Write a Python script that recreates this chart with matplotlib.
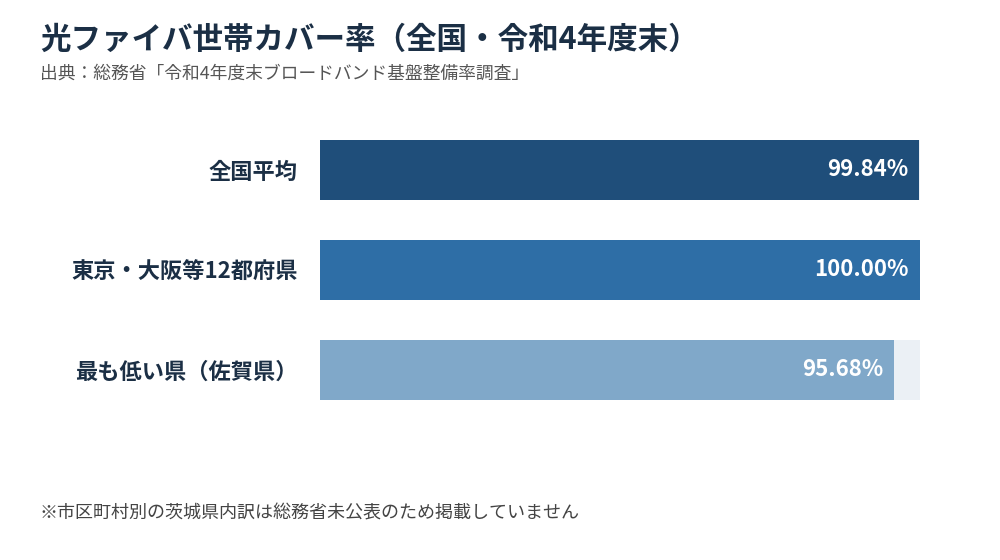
import matplotlib
matplotlib.use('Agg')
import matplotlib.pyplot as plt

plt.rcParams['font.family'] = ['Noto Sans CJK JP', 'DejaVu Sans']

categories = ['全国平均', '東京・大阪等12都府県', '最も低い県（佐賀県）']
values = [99.84, 100.00, 95.68]
labels = ['99.84%', '100.00%', '95.68%']
colors = ['#1f4e7a', '#2e6ea6', '#80a8c9']

title = '光ファイバ世帯カバー率（全国・令和4年度末）'
subtitle = '出典：総務省「令和4年度末ブロードバンド基盤整備率調査」'
note = '※市区町村別の茨城県内訳は総務省未公表のため掲載していません'

fig = plt.figure(figsize=(10, 5.6), dpi=100)
ax = fig.add_axes([0.32, 0.25, 0.60, 300 / 560])

ypos = list(range(len(categories)))
# background track (100%)
ax.barh(ypos, [100] * len(ypos), height=0.6, color='#ebf0f5')
ax.barh(ypos, values, height=0.6, color=colors)

for y, v, lab in zip(ypos, values, labels):
    ax.annotate(lab, (v, y), xytext=(-8, 0), textcoords='offset points',
                ha='right', va='center', color='white',
                fontsize=16, fontweight='bold')

ax.set_xlim(0, 100)
ax.set_ylim(len(categories) - 0.5, -0.5)
ax.set_yticks(ypos)
ax.set_yticklabels(categories, fontsize=16, fontweight='bold', color='#1b2f45')
ax.tick_params(axis='y', length=0, pad=16)
ax.set_xticks([])
for s in ax.spines.values():
    s.set_visible(False)

fig.text(0.04, 1 - 40 / 560, title, fontsize=22, fontweight='bold',
         color='#1b2f45', va='center')
fig.text(0.04, 1 - 74 / 560, subtitle, fontsize=12.8, color='#555555', va='center')
fig.text(0.04, 1 - 514 / 560, note, fontsize=13, color='#444444', va='center')

fig.savefig('out.png', dpi=100, facecolor='white')
